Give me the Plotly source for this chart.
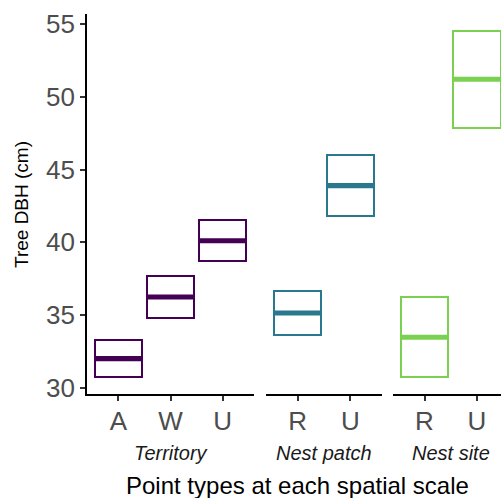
import plotly.graph_objects as go

# ---- data ----
scale_labels = ["Territory", "Nest patch", "Nest site"]

territory_types = ["A", "W", "U"]
territory_mean = [32.00, 36.24, 40.11]
territory_lower = [30.76, 34.77, 38.72]
territory_upper = [33.28, 37.68, 41.54]

patch_types = ["R", "U"]
patch_mean = [35.14, 43.90]
patch_lower = [33.62, 41.79]
patch_upper = [36.65, 46.01]

site_types = ["R", "U"]
site_mean = [33.47, 51.22]
site_lower = [30.76, 47.89]
site_upper = [36.22, 54.54]

colors = ["#440154", "#2A788E", "#7AD151"]
y_ticks = [30, 35, 40, 45, 50, 55]

panels = [
    (territory_types, territory_mean, territory_lower, territory_upper),
    (patch_types, patch_mean, patch_lower, patch_upper),
    (site_types, site_mean, site_lower, site_upper),
]

# ---- layout geometry ----
W, H = 501, 498
ML, MR, MT, MB = 87, 0, 14, 104
PW = W - ML - MR
PH = H - MT - MB

def px_to_paper_x(px):
    return (px - ML) / PW

def px_to_paper_y(py):
    return (H - MB - py) / PH

panel_px = [(87, 254), (266, 382), (393, 501)]
panel_ranges = [[0.4, 3.6], [0.4, 2.6], [0.4, 0.4 + 108 / 52.5]]
panel_centers_px = [170.5, 324, 451]

BOX_W = 0.9
fig = go.Figure()

for k, (types, mean, lower, upper) in enumerate(panels):
    xa = "x" if k == 0 else f"x{k+1}"
    pos = list(range(1, len(types) + 1))
    fig.add_trace(go.Bar(
        x=pos, y=[u - l for u, l in zip(upper, lower)], base=lower,
        width=BOX_W,
        marker=dict(color="white", line=dict(color=colors[k], width=2)),
        xaxis=xa, yaxis="y", showlegend=False, hoverinfo="skip",
    ))
    lx, ly = [], []
    for p, m in zip(pos, mean):
        lx += [p - BOX_W / 2 + 0.01, p + BOX_W / 2 - 0.01, None]
        ly += [m, m, None]
    fig.add_trace(go.Scatter(
        x=lx, y=ly, mode="lines",
        line=dict(color=colors[k], width=5.2),
        xaxis=xa, yaxis="y", showlegend=False, hoverinfo="skip",
    ))

axis_common = dict(
    showgrid=False, zeroline=False, showline=True,
    linecolor="black", linewidth=1.8,
    ticks="outside", ticklen=5, tickwidth=1.6, tickcolor="#333333",
    tickfont=dict(family="Liberation Sans, Arial, sans-serif", size=26, color="#4D4D4D"),
)

layout = dict(
    width=W, height=H,
    margin=dict(l=ML, r=MR, t=MT, b=MB, pad=0),
    plot_bgcolor="white", paper_bgcolor="white",
    showlegend=False,
    bargap=0,
    yaxis=dict(range=[29.567, 55.71], tickvals=y_ticks, anchor="x", **axis_common),
)
for k, (types, _, _, _) in enumerate(panels):
    name = "xaxis" if k == 0 else f"xaxis{k+1}"
    x0, x1 = panel_px[k]
    layout[name] = dict(
        domain=[px_to_paper_x(x0), min(1.0, px_to_paper_x(x1))],
        range=panel_ranges[k],
        tickvals=list(range(1, len(types) + 1)),
        ticktext=types,
        anchor="y",
        ticklabelstandoff=-2,
        **axis_common,
    )
fig.update_layout(**layout)

annotations = []
for k, lab in enumerate(scale_labels):
    annotations.append(dict(
        text=f"<i>{lab}</i>", xref="paper", yref="paper",
        x=px_to_paper_x(panel_centers_px[k]), y=px_to_paper_y(452.5),
        xanchor="center", yanchor="middle", showarrow=False,
        font=dict(family="Liberation Sans, Arial, sans-serif", size=20, color="#1A1A1A"),
    ))
annotations.append(dict(
    text="Point types at each spatial scale", xref="paper", yref="paper",
    x=px_to_paper_x(297.5), y=px_to_paper_y(485),
    xanchor="center", yanchor="middle", showarrow=False,
    font=dict(family="Liberation Sans, Arial, sans-serif", size=24, color="black"),
))
annotations.append(dict(
    text="Tree DBH (cm)", xref="paper", yref="paper",
    x=px_to_paper_x(21), y=px_to_paper_y(205),
    xanchor="center", yanchor="middle", textangle=-90, showarrow=False,
    font=dict(family="Liberation Sans, Arial, sans-serif", size=19, color="black"),
))
fig.update_layout(annotations=annotations)

fig.write_html(
    "out.html",
    config={"displayModeBar": False},
    post_script="document.body.style.margin='0';document.body.style.overflow='hidden';",
)
